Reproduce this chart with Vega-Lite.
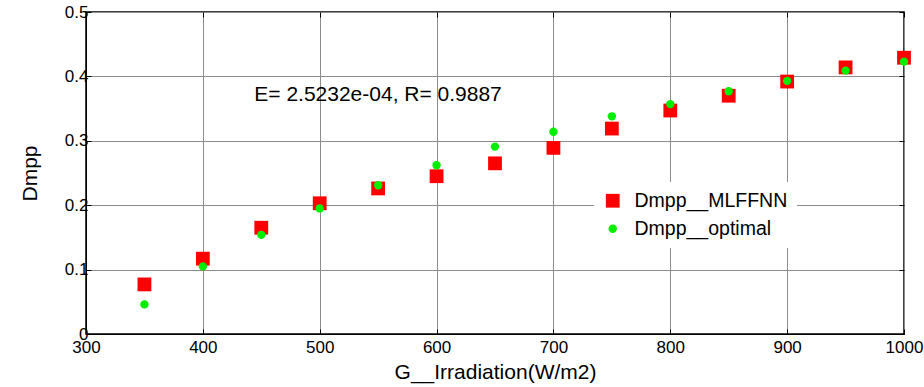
{
  "$schema": "https://vega.github.io/schema/vega-lite/v6.json",
  "width": 818,
  "height": 322,
  "autosize": {"type": "none"},
  "padding": {"left": 86, "top": 12, "right": 20, "bottom": 53},
  "background": "white",
  "config": {
    "font": "Liberation Sans",
    "view": {"stroke": "black", "strokeWidth": 1.5},
    "axis": {
      "labelFont": "Liberation Sans",
      "titleFont": "Liberation Sans",
      "labelColor": "black",
      "titleColor": "black",
      "titleFontWeight": "normal",
      "labelFontSize": 17,
      "titleFontSize": 21,
      "domainColor": "black",
      "tickColor": "black",
      "tickSize": -5,
      "gridColor": "#8c8c8c",
      "gridWidth": 1
    }
  },
  "resolve": {"axis": {"x": "independent", "y": "independent"}},
  "datasets": {
    "pts": [
      {"G": 350, "D": 0.077, "s": "Dmpp__MLFFNN"},
      {"G": 400, "D": 0.117, "s": "Dmpp__MLFFNN"},
      {"G": 450, "D": 0.165, "s": "Dmpp__MLFFNN"},
      {"G": 500, "D": 0.203, "s": "Dmpp__MLFFNN"},
      {"G": 550, "D": 0.226, "s": "Dmpp__MLFFNN"},
      {"G": 600, "D": 0.245, "s": "Dmpp__MLFFNN"},
      {"G": 650, "D": 0.265, "s": "Dmpp__MLFFNN"},
      {"G": 700, "D": 0.289, "s": "Dmpp__MLFFNN"},
      {"G": 750, "D": 0.319, "s": "Dmpp__MLFFNN"},
      {"G": 800, "D": 0.347, "s": "Dmpp__MLFFNN"},
      {"G": 850, "D": 0.370, "s": "Dmpp__MLFFNN"},
      {"G": 900, "D": 0.392, "s": "Dmpp__MLFFNN"},
      {"G": 950, "D": 0.414, "s": "Dmpp__MLFFNN"},
      {"G": 1000, "D": 0.429, "s": "Dmpp__MLFFNN"},
      {"G": 350, "D": 0.046, "s": "Dmpp__optimal"},
      {"G": 400, "D": 0.105, "s": "Dmpp__optimal"},
      {"G": 450, "D": 0.154, "s": "Dmpp__optimal"},
      {"G": 500, "D": 0.195, "s": "Dmpp__optimal"},
      {"G": 550, "D": 0.231, "s": "Dmpp__optimal"},
      {"G": 600, "D": 0.262, "s": "Dmpp__optimal"},
      {"G": 650, "D": 0.291, "s": "Dmpp__optimal"},
      {"G": 700, "D": 0.314, "s": "Dmpp__optimal"},
      {"G": 750, "D": 0.338, "s": "Dmpp__optimal"},
      {"G": 800, "D": 0.357, "s": "Dmpp__optimal"},
      {"G": 850, "D": 0.377, "s": "Dmpp__optimal"},
      {"G": 900, "D": 0.393, "s": "Dmpp__optimal"},
      {"G": 950, "D": 0.409, "s": "Dmpp__optimal"},
      {"G": 1000, "D": 0.423, "s": "Dmpp__optimal"}
    ],
    "note": [
      {"G": 444, "D": 0.371, "t": "E= 2.5232e-04, R= 0.9887"}
    ]
  },
  "layer": [
    {
      "data": {"name": "pts"},
      "mark": {"type": "point", "filled": true, "opacity": 1},
      "encoding": {
        "x": {
          "field": "G", "type": "quantitative",
          "scale": {"domain": [300, 1000], "nice": false, "zero": false},
          "axis": {"title": "G__Irradiation(W/m2)", "values": [300,400,500,600,700,800,900,1000], "format": "d", "grid": true, "labelPadding": 10, "titlePadding": 6, "labelFlush": false}
        },
        "y": {
          "field": "D", "type": "quantitative",
          "scale": {"domain": [0, 0.5], "nice": false},
          "axis": {"title": "Dmpp", "values": [0,0.1,0.2,0.3,0.4,0.5], "format": "~g", "grid": true, "labelPadding": 3, "titlePadding": 24, "labelFlush": false}
        },
        "color": {
          "field": "s", "type": "nominal",
          "scale": {"domain": ["Dmpp__MLFFNN", "Dmpp__optimal"], "range": ["#ff0000", "#00ee00"]},
          "legend": {
            "title": null,
            "orient": "none",
            "legendX": 508,
            "legendY": 170,
            "fillColor": "white",
            "padding": 9,
            "labelFontSize": 19.5,
            "labelFont": "Liberation Sans",
            "labelColor": "black",
            "symbolOpacity": 1,
            "rowPadding": 7,
            "labelOffset": 12
          }
        },
        "shape": {
          "field": "s", "type": "nominal",
          "scale": {"domain": ["Dmpp__MLFFNN", "Dmpp__optimal"], "range": ["square", "circle"]}
        },
        "size": {
          "field": "s", "type": "nominal",
          "scale": {"domain": ["Dmpp__MLFFNN", "Dmpp__optimal"], "range": [190, 70]}
        }
      }
    },
    {
      "data": {"name": "note"},
      "mark": {"type": "text", "align": "left", "baseline": "middle", "fontSize": 21, "font": "Liberation Sans", "color": "black"},
      "encoding": {
        "x": {"field": "G", "type": "quantitative",
          "axis": {"orient": "top", "title": null, "labels": false, "grid": false, "domain": false, "values": [300,400,500,600,700,800,900,1000]}},
        "y": {"field": "D", "type": "quantitative",
          "axis": {"orient": "right", "title": null, "labels": false, "grid": false, "domain": false, "values": [0,0.1,0.2,0.3,0.4,0.5]}},
        "text": {"field": "t"}
      }
    }
  ]
}
